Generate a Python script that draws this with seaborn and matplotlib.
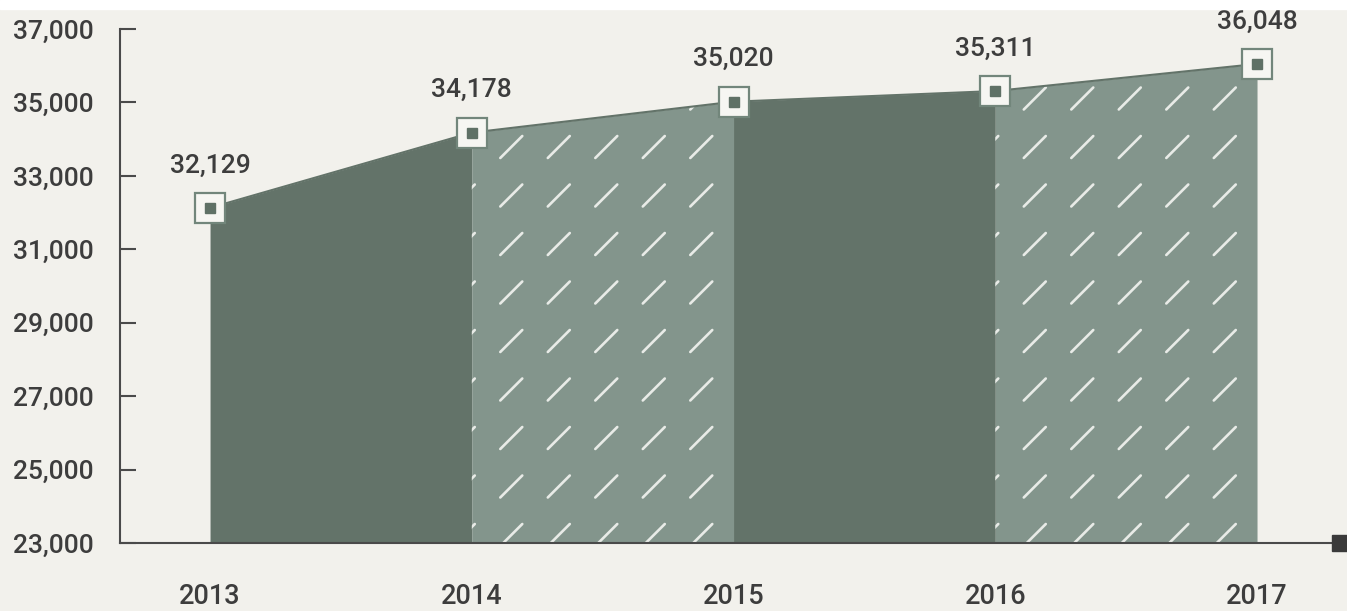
import numpy as np
import pandas as pd
import matplotlib
matplotlib.use("Agg")
import matplotlib.pyplot as plt
import seaborn as sns
from matplotlib.collections import LineCollection
from matplotlib.patches import Rectangle
from matplotlib.transforms import IdentityTransform

# ---- data ----
years = [2013, 2014, 2015, 2016, 2017]
values = [32129, 34178, 35020, 35311, 36048]
value_labels = ["32,129", "34,178", "35,020", "35,311", "36,048"]
y_ticks = [23000, 25000, 27000, 29000, 31000, 33000, 35000, 37000]
y_tick_labels = ["23,000", "25,000", "27,000", "29,000", "31,000", "33,000", "35,000", "37,000"]
x_tick_labels = ["2013", "2014", "2015", "2016", "2017"]

# ---- style ----
BG = "#f2f1ec"
DARK = "#637369"
LIGHT = "#83958c"
AXC = "#4a4a4a"
TXT = "#3d3d3d"
DASH = "#e8ebe7"

sns.set_theme(style="white")
plt.rcParams["font.family"] = ["Roboto", "DejaVu Sans"]
plt.rcParams["font.weight"] = "medium"

W, H = 1347, 611
fig = plt.figure(figsize=(W / 100, H / 100), dpi=100, facecolor=BG)
fig.patches.append(Rectangle((0, 1 - 9 / H), 1, 9 / H, transform=fig.transFigure,
                             color="white", zorder=0))
ax = fig.add_axes([120 / W, 1 - 543 / H, (1340 - 120) / W, (543 - 29) / H])
ax.set_facecolor(BG)
ax.set_xlim(2012.656, 2017.317)
ax.set_ylim(23000, 37000)

df = pd.DataFrame({"year": years, "value": values})

# area segments
polys = []
for i in range(len(years) - 1):
    col = DARK if i % 2 == 0 else LIGHT
    p = ax.fill_between(years[i:i + 2], 23000, values[i:i + 2], color=col, lw=0, zorder=1)
    polys.append(p)

# dashed hatch texture on light segments
bottom_px = ax.transData.transform((years[0], 23000))[1]
top_px = ax.transData.transform((years[0], 37000))[1]
for i, p in enumerate(polys):
    if i % 2 == 0:
        continue
    left_px = ax.transData.transform((years[i], 23000))[0]
    right_px = ax.transData.transform((years[i + 1], 23000))[0]
    segs = []
    cx = left_px - 8
    while cx < right_px + 20:
        cy = bottom_px + 8
        while cy < top_px + 20:
            segs.append([(cx - 11, cy - 11), (cx + 11, cy + 11)])
            cy += 48.5
        cx += 47.5
    lc = LineCollection(segs, transform=IdentityTransform(), colors=DASH,
                        linewidths=1.9, zorder=1.5, capstyle="round")
    lc.set_clip_path(p.get_paths()[0], ax.transData)
    ax.add_collection(lc)

# line with markers
sns.lineplot(data=df, x="year", y="value", ax=ax, color=DARK, lw=1.5, zorder=2,
             marker="s", markersize=22, markerfacecolor="#f6f6f2",
             markeredgecolor="#72867b", markeredgewidth=1.6, clip_on=False)
ax.plot(df["year"], df["value"], ls="", marker="s", markersize=7, color="#5f7166",
        zorder=6, clip_on=False)

for x, v, lab in zip(years, values, value_labels):
    ax.annotate(lab, (x, v), xytext=(0, 25.5), textcoords="offset points",
                ha="center", va="baseline", fontsize=19, color=TXT,
                fontweight="medium", zorder=10)

# axes
for s in ["top", "right"]:
    ax.spines[s].set_visible(False)
ax.spines["left"].set_color(AXC)
ax.spines["left"].set_linewidth(1.5)
ax.spines["left"].set_bounds(23000, 37000)
ax.spines["bottom"].set_color(AXC)
ax.spines["bottom"].set_linewidth(1.5)
ax.spines["left"].set_zorder(3)
ax.spines["bottom"].set_zorder(3)

ax.set_yticks(y_ticks, y_tick_labels, fontweight="medium")
ax.set_xticks(years, x_tick_labels, fontweight="medium")
ax.tick_params(axis="y", direction="in", length=11.5, width=1.5, color=AXC,
               pad=19, labelsize=19, labelcolor=TXT, left=True)
ax.tick_params(axis="x", length=0, pad=29, labelsize=19.5, labelcolor=TXT)
ax.set_xlabel("")
ax.set_ylabel("")
ax.grid(False)

ax.plot([1], [0], marker="s", markersize=12, color="#3a3a3a",
        transform=ax.transAxes, clip_on=False, zorder=7)

fig.savefig("out.png", dpi=100, facecolor=BG)
